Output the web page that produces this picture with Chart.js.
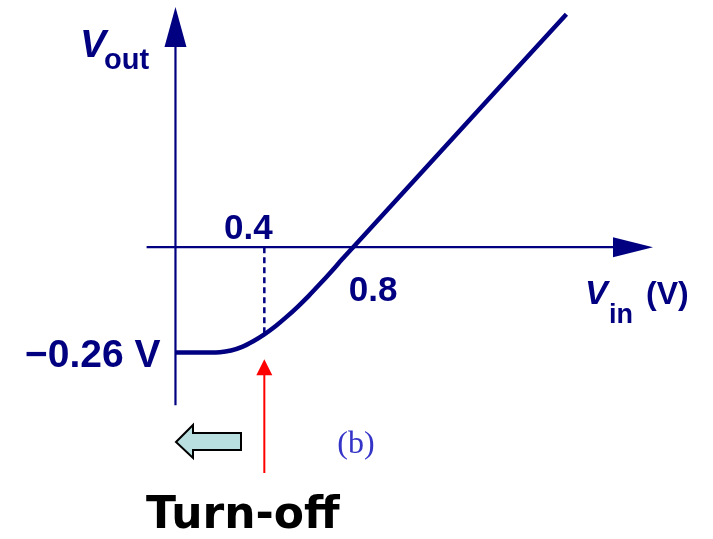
<!DOCTYPE html>
<html>
<head>
<meta charset="utf-8">
<script src="https://cdn.jsdelivr.net/npm/chart.js@4"></script>
<style>
  html, body { margin: 0; padding: 0; background: #ffffff; }
  #wrap { width: 713px; height: 539px; position: relative; }
</style>
</head>
<body>
<div id="wrap"><canvas id="vtcChart"></canvas></div>
<script>
// transfer curve (volts)
const vin = [0, 0.1, 0.2, 0.25, 0.3, 0.35, 0.4, 0.45, 0.5, 0.55, 0.6, 0.65, 0.7, 0.75, 0.8, 1.76];
const vout = [-0.26, -0.26, -0.259, -0.255, -0.246, -0.232, -0.215, -0.195, -0.172, -0.147, -0.12, -0.091, -0.061, -0.03, 0, 0.575];

// marked values
const turnOffVin = 0.4;
const crossVin = 0.8;
const floorVout = -0.26;
const xTickLabels = ["0.4", "0.8"];
const yTickLabel = "\u22120.26 V";

// axis extents
const xAxisFrom = -0.13, xAxisTo = 2.15;
const yAxisFrom = -0.39, yAxisTo = 0.593;

const NAVY = "#000080";

const curve = vin.map((v, i) => ({ x: v, y: vout[i] }));
const turnOffVout = vout[vin.indexOf(turnOffVin)];

function arrowHead(c, tipX, tipY, dx, dy, len, half) {
  // dx, dy: unit direction of the arrow
  const bx = tipX - dx * len, by = tipY - dy * len;
  c.beginPath();
  c.moveTo(tipX, tipY);
  c.lineTo(bx - dy * half, by + dx * half);
  c.lineTo(bx + dy * half, by - dx * half);
  c.closePath();
  c.fill();
}

const diagram = {
  id: "diagram",
  beforeDatasetsDraw(chart) {
    const c = chart.ctx;
    const xs = chart.scales.x, ys = chart.scales.y;
    const x0 = xs.getPixelForValue(0), y0 = ys.getPixelForValue(0);
    c.save();
    c.strokeStyle = NAVY;
    c.fillStyle = NAVY;
    c.lineWidth = 2.2;
    // Vout axis
    const yTop = ys.getPixelForValue(yAxisTo);
    c.beginPath();
    c.moveTo(x0, ys.getPixelForValue(yAxisFrom));
    c.lineTo(x0, yTop + 30);
    c.stroke();
    arrowHead(c, x0, yTop, 0, -1, 40, 11);
    // Vin axis
    const xEnd = xs.getPixelForValue(xAxisTo);
    c.beginPath();
    c.moveTo(xs.getPixelForValue(xAxisFrom), y0);
    c.lineTo(xEnd - 30, y0);
    c.stroke();
    arrowHead(c, xEnd, y0, 1, 0, 40, 10);
    c.restore();
  },
  afterDraw(chart) {
    const c = chart.ctx;
    const xs = chart.scales.x, ys = chart.scales.y;
    const x0 = xs.getPixelForValue(0), y0 = ys.getPixelForValue(0);
    c.save();
    c.fillStyle = NAVY;
    c.textBaseline = "alphabetic";

    // axis titles
    c.textAlign = "left";
    c.font = "italic bold 39px 'Liberation Sans'";
    c.fillText("V", 80, 57);
    c.font = "bold 29px 'Liberation Sans'";
    c.fillText("out", 104, 69);

    c.font = "italic bold 34px 'Liberation Sans'";
    c.fillText("V", 585, 304);
    c.font = "bold 27px 'Liberation Sans'";
    c.fillText("in", 609, 323);
    c.font = "bold 32px 'Liberation Sans'";
    c.fillText("(V)", 646, 304);

    // tick labels
    c.textAlign = "center";
    c.font = "bold 35px 'Liberation Sans'";
    c.fillText(xTickLabels[0], xs.getPixelForValue(turnOffVin) - 16, y0 - 8);
    c.fillText(xTickLabels[1], xs.getPixelForValue(crossVin) + 20, y0 + 54);
    c.textAlign = "right";
    c.font = "bold 39px 'Liberation Sans'";
    c.fillText(yTickLabel, x0 - 15, ys.getPixelForValue(floorVout) + 14);

    // (b)
    c.textAlign = "center";
    c.fillStyle = "#3434c8";
    c.font = "32px 'Liberation Serif'";
    c.fillText("(b)", 356, 453);

    // turn-off pointer
    const px = xs.getPixelForValue(turnOffVin);
    const tipY = ys.getPixelForValue(turnOffVout) + 25;
    c.strokeStyle = "#ff0000";
    c.fillStyle = "#ff0000";
    c.lineWidth = 2;
    c.beginPath();
    c.moveTo(px, 473);
    c.lineTo(px, tipY + 12);
    c.stroke();
    arrowHead(c, px, tipY, 0, -1, 16, 8);

    // block arrow pointing left
    c.beginPath();
    c.moveTo(176, 442);
    c.lineTo(193, 425);
    c.lineTo(193, 433);
    c.lineTo(241, 433);
    c.lineTo(241, 450);
    c.lineTo(193, 450);
    c.lineTo(193, 458);
    c.closePath();
    c.fillStyle = "#b9dfe1";
    c.fill();
    c.strokeStyle = "#000000";
    c.lineWidth = 2;
    c.lineJoin = "miter";
    c.stroke();

    c.fillStyle = "#000000";
    c.textAlign = "left";
    c.font = "bold 44px 'DejaVu Sans'";
    c.fillText("Turn-off", 146, 528);
    c.restore();
  }
};

new Chart(document.getElementById("vtcChart"), {
  type: "scatter",
  data: {
    datasets: [
      {
        label: "Vout",
        data: curve,
        showLine: true,
        borderColor: NAVY,
        borderWidth: 4.5,
        pointRadius: 0,
        cubicInterpolationMode: "monotone",
        borderCapStyle: "butt",
      },
      {
        label: "turn-off",
        data: [
          { x: turnOffVin, y: 0 },
          { x: turnOffVin, y: turnOffVout },
        ],
        showLine: true,
        borderColor: NAVY,
        borderWidth: 2.5,
        borderDash: [6, 4],
        pointRadius: 0,
      },
    ],
  },
  options: {
    responsive: true,
    maintainAspectRatio: false,
    animation: false,
    layout: { padding: 0 },
    plugins: {
      legend: { display: false },
      tooltip: { enabled: false },
    },
    scales: {
      x: { type: "linear", min: -0.79, max: 2.42, display: false },
      y: { type: "linear", min: -0.72, max: 0.61, display: false },
    },
  },
  plugins: [diagram],
});
</script>
</body>
</html>
